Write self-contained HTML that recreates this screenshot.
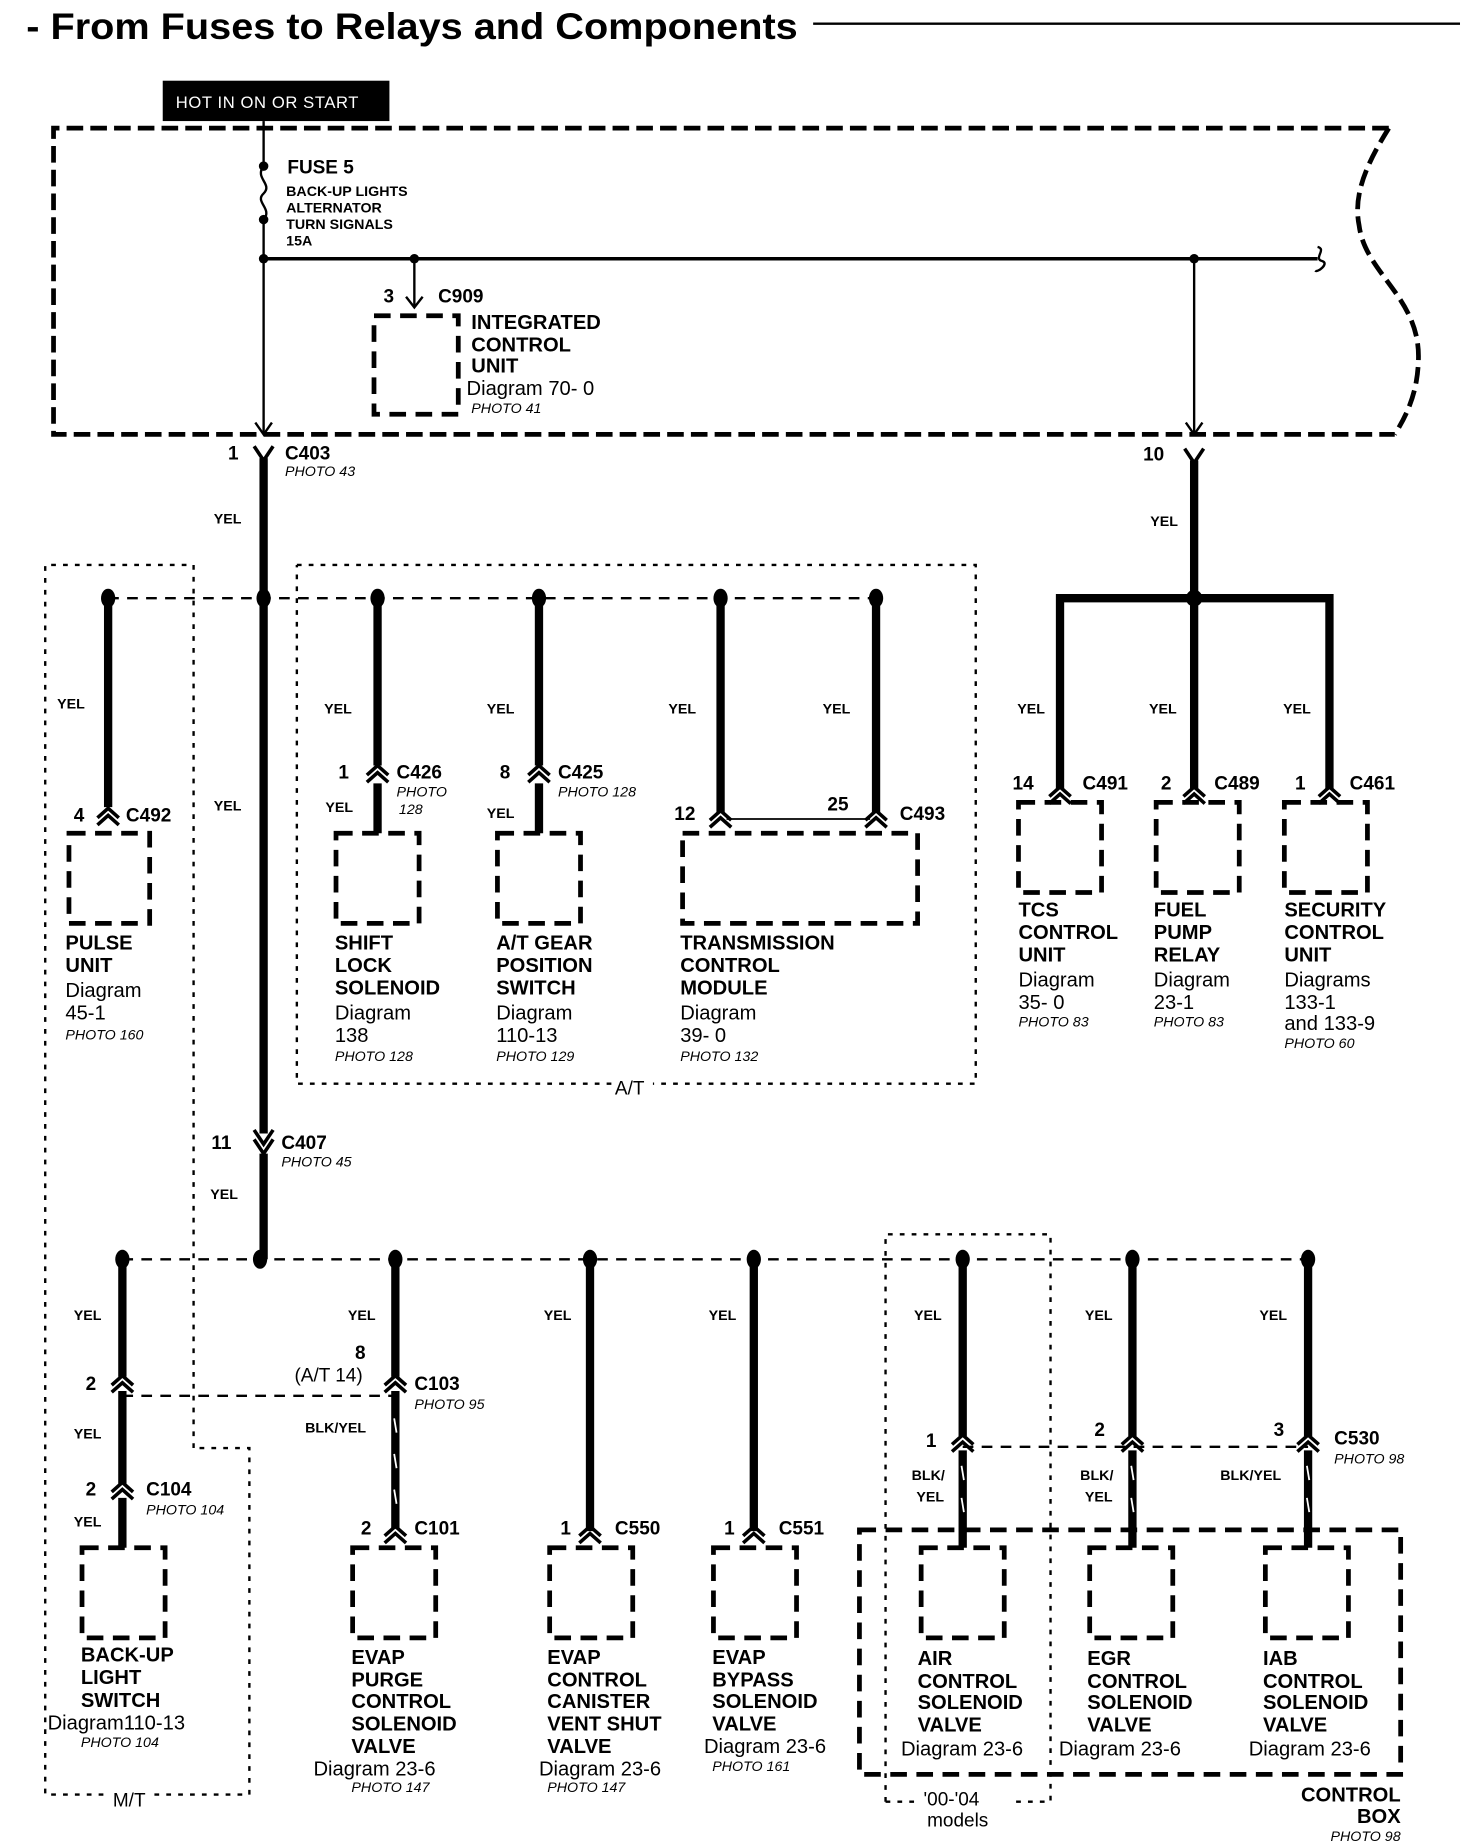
<!DOCTYPE html>
<html><head><meta charset="utf-8"><style>
html,body{margin:0;padding:0;background:#fff;}
svg{display:block;}
text{font-family:"Liberation Sans",sans-serif;fill:#000;}
.b{font-weight:bold;font-size:17px;}
.c{font-weight:bold;font-size:16px;}
.y{font-weight:bold;font-size:12px;}
.d{font-size:17px;}
.p{font-style:italic;font-size:12px;}
.s{font-weight:bold;font-size:12px;}
</style></head><body>
<svg width="1472" height="1848" viewBox="0 0 1240 1557" xmlns="http://www.w3.org/2000/svg">
<defs>
<g id="fc"><path d="M-9 7 L0 -1 L9 7" fill="none" stroke="#000" stroke-width="3"/><path d="M-9 1 L0 -7 L9 1" fill="none" stroke="#000" stroke-width="3"/></g>
<g id="yc"><path d="M-8 -8 L0 4 L8 -8" fill="none" stroke="#000" stroke-width="3"/></g>
</defs>
<!-- title -->
<text x="22" y="33" font-weight="bold" font-size="31" textLength="650" lengthAdjust="spacingAndGlyphs">- From Fuses to Relays and Components</text>
<line x1="685" y1="20" x2="1230" y2="20" stroke="#000" stroke-width="2"/>
<rect x="137" y="68" width="191" height="34" fill="#000"/>
<text x="148" y="91" font-size="14" style="fill:#fff" letter-spacing="0.5">HOT IN ON OR START</text>
<!-- fuse box -->
<g fill="none" stroke="#000" stroke-width="4" stroke-dasharray="14 6">
<path d="M1170 108 L45 108 L45 366 L1175 366"/>
<path d="M1170 108 C1150 140 1140 165 1145 190 C1150 230 1195 250 1195 300 C1195 330 1185 350 1175 366"/>
</g>
<g stroke="#000" stroke-width="2" fill="none">
<line x1="222" y1="102" x2="222" y2="140"/>
<path d="M222 140 C214 150 230 155 222 163 C214 170 230 176 222 185"/>
<line x1="222" y1="185" x2="222" y2="366"/>
<line x1="222" y1="218" x2="1110" y2="218" stroke-width="3"/>
<path d="M1110 208 C1118 210 1106 218 1114 220 C1120 222 1110 230 1108 228"/>
<line x1="349" y1="218" x2="349" y2="258"/>
<path d="M342 250 L349 259 L356 250"/>
<line x1="1006" y1="218" x2="1006" y2="366"/>
<path d="M999 356 L1006 366 L1013 356"/>
<path d="M215 356 L222 366 L229 356"/>
</g>
<g fill="#000"><circle cx="222" cy="140" r="4"/><circle cx="222" cy="185" r="4"/><circle cx="222" cy="218" r="4"/><circle cx="349" cy="218" r="4"/><circle cx="1006" cy="218" r="4"/></g>
<text x="242" y="146" class="c">FUSE 5</text>
<text x="241" y="165" class="s">BACK-UP LIGHTS</text>
<text x="241" y="179" class="s">ALTERNATOR</text>
<text x="241" y="193" class="s">TURN SIGNALS</text>
<text x="241" y="207" class="s">15A</text>
<text x="323" y="255" class="c">3</text><text x="369" y="255" class="c">C909</text>
<rect x="315" y="266" width="71" height="83" fill="none" stroke="#000" stroke-width="4" stroke-dasharray="14 8"/>
<text x="397" y="277" class="b">INTEGRATED</text>
<text x="397" y="296" class="b">CONTROL</text>
<text x="397" y="314" class="b">UNIT</text>
<text x="393" y="333" class="d">Diagram  70- 0</text>
<text x="397" y="348" class="p">PHOTO 41</text>
<!-- C403 -->
<use href="#yc" x="222" y="384"/>
<text x="192" y="387" class="c">1</text><text x="240" y="387" class="c">C403</text><text x="240" y="401" class="p">PHOTO 43</text>
<use href="#yc" x="1006" y="386"/>
<text x="963" y="388" class="c">10</text>
<g stroke="#000" stroke-width="7" fill="none">
<line x1="222" y1="386" x2="222" y2="955"/>
<line x1="222" y1="972" x2="222" y2="1061"/>
<line x1="1006" y1="388" x2="1006" y2="504"/>
<path d="M893 665 L893 504 L1120 504 L1120 665"/>
<line x1="1006" y1="504" x2="1006" y2="665"/>
<line x1="91" y1="504" x2="91" y2="680"/>
<line x1="318" y1="504" x2="318" y2="645"/>
<line x1="318" y1="660" x2="318" y2="702"/>
<line x1="454" y1="504" x2="454" y2="645"/>
<line x1="454" y1="660" x2="454" y2="702"/>
<line x1="607" y1="504" x2="607" y2="685"/>
<line x1="738" y1="504" x2="738" y2="685"/>
</g>
<text x="180" y="441" class="y">YEL</text><text x="969" y="443" class="y">YEL</text>
<g fill="#000"><circle cx="1006" cy="504" r="7"/></g>
<text x="857" y="601" class="y">YEL</text><text x="968" y="601" class="y">YEL</text><text x="1081" y="601" class="y">YEL</text>
<use href="#fc" x="893" y="670"/><use href="#fc" x="1006" y="670"/><use href="#fc" x="1120" y="670"/>
<text x="853" y="665" class="c">14</text><text x="912" y="665" class="c">C491</text>
<text x="978" y="665" class="c">2</text><text x="1023" y="665" class="c">C489</text>
<text x="1091" y="665" class="c">1</text><text x="1137" y="665" class="c">C461</text>
<g fill="none" stroke="#000" stroke-width="4" stroke-dasharray="14 8">
<rect x="858" y="676" width="70" height="76"/><rect x="974" y="676" width="70" height="76"/><rect x="1082" y="676" width="70" height="76"/>
</g>
<text x="858" y="772" class="b">TCS</text><text x="858" y="791" class="b">CONTROL</text><text x="858" y="810" class="b">UNIT</text>
<text x="858" y="831" class="d">Diagram</text><text x="858" y="850" class="d">35- 0</text><text x="858" y="865" class="p">PHOTO 83</text>
<text x="972" y="772" class="b">FUEL</text><text x="972" y="791" class="b">PUMP</text><text x="972" y="810" class="b">RELAY</text>
<text x="972" y="831" class="d">Diagram</text><text x="972" y="850" class="d">23-1</text><text x="972" y="865" class="p">PHOTO 83</text>
<text x="1082" y="772" class="b">SECURITY</text><text x="1082" y="791" class="b">CONTROL</text><text x="1082" y="810" class="b">UNIT</text>
<text x="1082" y="831" class="d">Diagrams</text><text x="1082" y="850" class="d">133-1</text><text x="1082" y="868" class="d">and 133-9</text><text x="1082" y="883" class="p">PHOTO 60</text>
<!-- dotted regions -->
<g fill="none" stroke="#000" stroke-width="2" stroke-dasharray="4 6">
<path d="M163 1220 L163 476 L38 476 L38 1512 L90 1512"/>
<path d="M130 1512 L210 1512 L210 1220 L163 1220"/>
<path d="M250 476 L822 476 L822 913 L550 913 M515 913 L250 913 L250 476"/>
<path d="M746 1518 L746 1040 L885 1040 L885 1518 L855 1518 M770 1518 L746 1518"/>
</g>
<text x="95" y="1522" font-size="16">M/T</text>
<text x="518" y="922" font-size="16">A/T</text>
<g stroke="#000" stroke-width="2" stroke-dasharray="9 7" fill="none">
<line x1="91" y1="504" x2="738" y2="504"/>
<line x1="103" y1="1061" x2="1102" y2="1061"/>
<line x1="103" y1="1176" x2="333" y2="1176"/>
<line x1="811" y1="1219" x2="1102" y2="1219"/>
</g>
<line x1="612" y1="690" x2="733" y2="690" stroke="#000" stroke-width="1.5"/>
<g fill="#000">
<ellipse cx="91" cy="504" rx="6" ry="8"/><ellipse cx="222" cy="504" rx="6" ry="8"/><ellipse cx="318" cy="504" rx="6" ry="8"/><ellipse cx="454" cy="504" rx="6" ry="8"/><ellipse cx="607" cy="504" rx="6" ry="8"/><ellipse cx="738" cy="504" rx="6" ry="8"/>
<ellipse cx="103" cy="1061" rx="6" ry="8"/><ellipse cx="219" cy="1061" rx="6" ry="8"/><ellipse cx="333" cy="1061" rx="6" ry="8"/><ellipse cx="497" cy="1061" rx="6" ry="8"/><ellipse cx="635" cy="1061" rx="6" ry="8"/><ellipse cx="811" cy="1061" rx="6" ry="8"/><ellipse cx="954" cy="1061" rx="6" ry="8"/><ellipse cx="1102" cy="1061" rx="6" ry="8"/>
</g>
<text x="48" y="597" class="y">YEL</text><text x="180" y="683" class="y">YEL</text><text x="273" y="601" class="y">YEL</text><text x="410" y="601" class="y">YEL</text><text x="563" y="601" class="y">YEL</text><text x="693" y="601" class="y">YEL</text>
<use href="#fc" x="91" y="688"/><use href="#fc" x="318" y="652"/><use href="#fc" x="454" y="652"/><use href="#fc" x="607" y="690"/><use href="#fc" x="738" y="690"/>
<text x="62" y="692" class="c">4</text><text x="106" y="692" class="c">C492</text>
<text x="285" y="656" class="c">1</text><text x="334" y="656" class="c">C426</text><text x="334" y="671" class="p">PHOTO</text><text x="336" y="686" class="p">128</text><text x="274" y="684" class="y">YEL</text>
<text x="421" y="656" class="c">8</text><text x="470" y="656" class="c">C425</text><text x="470" y="671" class="p">PHOTO 128</text><text x="410" y="689" class="y">YEL</text>
<text x="568" y="691" class="c">12</text><text x="697" y="683" class="c">25</text><text x="758" y="691" class="c">C493</text>
<g fill="none" stroke="#000" stroke-width="4" stroke-dasharray="14 8">
<rect x="58" y="702" width="68" height="76"/><rect x="283" y="702" width="70" height="76"/><rect x="419" y="702" width="70" height="76"/><rect x="575" y="702" width="198" height="76"/>
</g>
<text x="55" y="800" class="b">PULSE</text><text x="55" y="819" class="b">UNIT</text><text x="55" y="840" class="d">Diagram</text><text x="55" y="859" class="d">45-1</text><text x="55" y="876" class="p">PHOTO 160</text>
<text x="282" y="800" class="b">SHIFT</text><text x="282" y="819" class="b">LOCK</text><text x="282" y="838" class="b">SOLENOID</text><text x="282" y="859" class="d">Diagram</text><text x="282" y="878" class="d">138</text><text x="282" y="894" class="p">PHOTO 128</text>
<text x="418" y="800" class="b">A/T GEAR</text><text x="418" y="819" class="b">POSITION</text><text x="418" y="838" class="b">SWITCH</text><text x="418" y="859" class="d">Diagram</text><text x="418" y="878" class="d">110-13</text><text x="418" y="894" class="p">PHOTO 129</text>
<text x="573" y="800" class="b">TRANSMISSION</text><text x="573" y="819" class="b">CONTROL</text><text x="573" y="838" class="b">MODULE</text><text x="573" y="859" class="d">Diagram</text><text x="573" y="878" class="d">39- 0</text><text x="573" y="894" class="p">PHOTO 132</text>
<!-- C407 -->
<use href="#yc" x="222" y="960"/><use href="#yc" x="222" y="968"/>
<text x="178" y="968" class="c">11</text><text x="237" y="968" class="c">C407</text><text x="237" y="983" class="p">PHOTO 45</text>
<text x="177" y="1010" class="y">YEL</text>
<!-- row 2 wires -->
<g stroke="#000" stroke-width="7">
<line x1="103" y1="1061" x2="103" y2="1160"/><line x1="103" y1="1172" x2="103" y2="1250"/><line x1="103" y1="1262" x2="103" y2="1304"/>
<line x1="333" y1="1061" x2="333" y2="1160"/><line x1="333" y1="1172" x2="333" y2="1288"/>
<line x1="497" y1="1061" x2="497" y2="1290"/>
<line x1="635" y1="1061" x2="635" y2="1290"/>
<line x1="811" y1="1061" x2="811" y2="1210"/><line x1="811" y1="1222" x2="811" y2="1304"/>
<line x1="954" y1="1061" x2="954" y2="1210"/><line x1="954" y1="1222" x2="954" y2="1304"/>
<line x1="1102" y1="1061" x2="1102" y2="1210"/><line x1="1102" y1="1222" x2="1102" y2="1304"/>
</g>
<g stroke="#fff" stroke-width="1.5">
<line x1="332" y1="1195" x2="334" y2="1207"/><line x1="332" y1="1225" x2="334" y2="1237"/><line x1="332" y1="1255" x2="334" y2="1267"/>
<line x1="810" y1="1235" x2="812" y2="1247"/><line x1="810" y1="1262" x2="812" y2="1274"/>
<line x1="953" y1="1235" x2="955" y2="1247"/><line x1="953" y1="1262" x2="955" y2="1274"/>
<line x1="1101" y1="1235" x2="1103" y2="1247"/><line x1="1101" y1="1262" x2="1103" y2="1274"/>
</g>
<use href="#fc" x="103" y="1166"/><use href="#fc" x="103" y="1256"/><use href="#fc" x="333" y="1166"/>
<use href="#fc" x="333" y="1293"/><use href="#fc" x="497" y="1293"/><use href="#fc" x="635" y="1293"/>
<use href="#fc" x="811" y="1216"/><use href="#fc" x="954" y="1216"/><use href="#fc" x="1102" y="1216"/>
<text x="62" y="1112" class="y">YEL</text><text x="293" y="1112" class="y">YEL</text><text x="458" y="1112" class="y">YEL</text><text x="597" y="1112" class="y">YEL</text><text x="770" y="1112" class="y">YEL</text><text x="914" y="1112" class="y">YEL</text><text x="1061" y="1112" class="y">YEL</text>
<text x="72" y="1171" class="c">2</text><text x="62" y="1212" class="y">YEL</text>
<text x="72" y="1260" class="c">2</text><text x="123" y="1260" class="c">C104</text><text x="123" y="1276" class="p">PHOTO 104</text><text x="62" y="1286" class="y">YEL</text>
<text x="299" y="1145" class="c">8</text><text x="248" y="1164" font-size="16">(A/T 14)</text><text x="349" y="1171" class="c">C103</text><text x="349" y="1187" class="p">PHOTO 95</text><text x="257" y="1207" class="y">BLK/YEL</text>
<text x="304" y="1293" class="c">2</text><text x="349" y="1293" class="c">C101</text>
<text x="472" y="1293" class="c">1</text><text x="518" y="1293" class="c">C550</text>
<text x="610" y="1293" class="c">1</text><text x="656" y="1293" class="c">C551</text>
<text x="780" y="1219" class="c">1</text><text x="922" y="1210" class="c">2</text><text x="1073" y="1210" class="c">3</text>
<text x="1124" y="1217" class="c">C530</text><text x="1124" y="1233" class="p">PHOTO 98</text>
<text x="768" y="1247" class="y">BLK/</text><text x="772" y="1265" class="y">YEL</text>
<text x="910" y="1247" class="y">BLK/</text><text x="914" y="1265" class="y">YEL</text>
<text x="1028" y="1247" class="y">BLK/YEL</text>
<g fill="none" stroke="#000" stroke-width="4" stroke-dasharray="14 8">
<rect x="69" y="1304" width="70" height="76"/><rect x="297" y="1304" width="70" height="76"/><rect x="463" y="1304" width="70" height="76"/><rect x="601" y="1304" width="70" height="76"/>
<rect x="776" y="1304" width="70" height="76"/><rect x="918" y="1304" width="70" height="76"/><rect x="1066" y="1304" width="70" height="76"/>
<rect x="724" y="1289" width="456" height="206"/>
</g>
<text x="68" y="1400" class="b">BACK-UP</text><text x="68" y="1419" class="b">LIGHT</text><text x="68" y="1438" class="b">SWITCH</text><text x="40" y="1457" class="d">Diagram110-13</text><text x="68" y="1472" class="p">PHOTO 104</text>
<text x="296" y="1402" class="b">EVAP</text><text x="296" y="1421" class="b">PURGE</text><text x="296" y="1439" class="b">CONTROL</text><text x="296" y="1458" class="b">SOLENOID</text><text x="296" y="1477" class="b">VALVE</text><text x="264" y="1496" class="d">Diagram 23-6</text><text x="296" y="1510" class="p">PHOTO 147</text>
<text x="461" y="1402" class="b">EVAP</text><text x="461" y="1421" class="b">CONTROL</text><text x="461" y="1439" class="b">CANISTER</text><text x="461" y="1458" class="b">VENT SHUT</text><text x="461" y="1477" class="b">VALVE</text><text x="454" y="1496" class="d">Diagram 23-6</text><text x="461" y="1510" class="p">PHOTO 147</text>
<text x="600" y="1402" class="b">EVAP</text><text x="600" y="1421" class="b">BYPASS</text><text x="600" y="1439" class="b">SOLENOID</text><text x="600" y="1458" class="b">VALVE</text><text x="593" y="1477" class="d">Diagram 23-6</text><text x="600" y="1492" class="p">PHOTO 161</text>
<text x="773" y="1403" class="b">AIR</text><text x="773" y="1422" class="b">CONTROL</text><text x="773" y="1440" class="b">SOLENOID</text><text x="773" y="1459" class="b">VALVE</text><text x="759" y="1479" class="d">Diagram 23-6</text>
<text x="916" y="1403" class="b">EGR</text><text x="916" y="1422" class="b">CONTROL</text><text x="916" y="1440" class="b">SOLENOID</text><text x="916" y="1459" class="b">VALVE</text><text x="892" y="1479" class="d">Diagram 23-6</text>
<text x="1064" y="1403" class="b">IAB</text><text x="1064" y="1422" class="b">CONTROL</text><text x="1064" y="1440" class="b">SOLENOID</text><text x="1064" y="1459" class="b">VALVE</text><text x="1052" y="1479" class="d">Diagram 23-6</text>
<text x="1180" y="1518" class="b" text-anchor="end">CONTROL</text><text x="1180" y="1536" class="b" text-anchor="end">BOX</text><text x="1180" y="1551" class="p" text-anchor="end">PHOTO 98</text>
<text x="778" y="1521" font-size="16">'00-'04</text><text x="781" y="1539" font-size="16">models</text>
</svg>
</body></html>
